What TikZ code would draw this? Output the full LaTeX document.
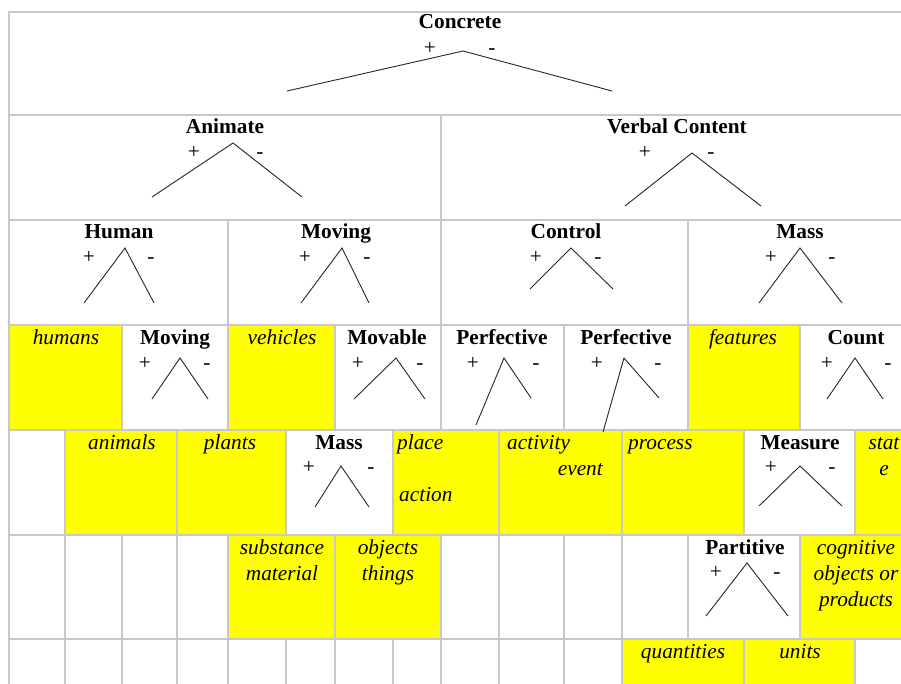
\documentclass[tikz,border=0pt]{standalone}
\usepackage{fontspec}
\setmainfont{Liberation Serif}
\definecolor{cellyellow}{HTML}{FFFF00}
\definecolor{gridgray}{HTML}{C8C8C8}
\tikzset{
  lbl/.style={anchor=base, inner sep=0pt, font=\bfseries\fontsize{21.33}{26}\selectfont},
  itl/.style={anchor=base, inner sep=0pt, font=\itshape\fontsize{21.33}{26}\selectfont},
  itlw/.style={itl, anchor=base west},
  sgn/.style={anchor=base, inner sep=0pt, font=\fontsize{21.33}{26}\selectfont},
  branch/.style={draw=black!85, line width=0.9pt},
  cellbox/.style={draw=gridgray, line width=1.7pt},
  yfill/.style={fill=cellyellow},
}
\newcommand\branchpair[7]{%
  \coordinate (#1a) at (#2,#3);
  \coordinate (#1l) at (#4,#5);
  \coordinate (#1r) at (#6,#7);
  \draw[branch] (#1l) -- (#1a) -- (#1r);}
\newcommand\signpair[4]{%
  \node[sgn] (#1p) at (#2,#4) {+};
  \node[sgn] (#1m) at (#3,#4) {-};}
\begin{document}
\begin{tikzpicture}[x=1pt,y=-1pt]
\useasboundingbox (0,0) rectangle (901,684);
\fill[white] (0,0) rectangle (901,684);
\clip (0,0) rectangle (901,684);

% ---------- yellow cells ----------
\foreach \xa/\xb/\ya/\yb in {
  9/122/325/430, 228/335/325/430, 688/800/325/430,
  65/177/430/535, 177/286/430/535, 393/499/430/535, 499/622/430/535, 622/744/430/535, 855/915/430/535,
  228/335/535/639, 335/441/535/639, 800/915/535/639,
  622/744/639/740, 744/855/639/740}
  \fill[yfill] (\xa,\ya) rectangle (\xb,\yb);

% ---------- cell borders ----------
\foreach \xa/\xb in {9/915}
  \draw[cellbox] (\xa,12) rectangle (\xb,115);
\foreach \xa/\xb in {9/441, 441/915}
  \draw[cellbox] (\xa,115) rectangle (\xb,220);
\foreach \xa/\xb in {9/228, 228/441, 441/688, 688/915}
  \draw[cellbox] (\xa,220) rectangle (\xb,325);
\foreach \xa/\xb in {9/122, 122/228, 228/335, 335/441, 441/564, 564/688, 688/800, 800/915}
  \draw[cellbox] (\xa,325) rectangle (\xb,430);
\foreach \xa/\xb in {9/65, 65/177, 177/286, 286/393, 393/499, 499/622, 622/744, 744/855, 855/915}
  \draw[cellbox] (\xa,430) rectangle (\xb,535);
\foreach \xa/\xb in {9/65, 65/122, 122/177, 177/228, 228/335, 335/441, 441/499, 499/564, 564/622, 622/688, 688/800, 800/915}
  \draw[cellbox] (\xa,535) rectangle (\xb,639);
\foreach \xa/\xb in {9/65, 65/122, 122/177, 177/228, 228/286, 286/335, 335/393, 393/441, 441/499, 499/564, 564/622, 622/744, 744/855, 855/915}
  \draw[cellbox] (\xa,639) rectangle (\xb,740);

% ---------- row 1 ----------
\node[lbl] (concrete) at (460,29) {Concrete};
\signpair{concrete}{430}{492}{55}
\branchpair{concrete}{463}{51}{287}{91}{612}{91}

% ---------- row 2 ----------
\node[lbl] (animate) at (225,134) {Animate};
\signpair{animate}{194}{260}{159}
\branchpair{animate}{233}{143}{152}{197}{302}{197}
\node[lbl] (verbal) at (677,134) {Verbal Content};
\signpair{verbal}{645}{711}{159}
\branchpair{verbal}{692}{153}{625}{206}{761}{206}

% ---------- row 3 ----------
\node[lbl] (human) at (119,239) {Human};
\signpair{human}{89}{151}{264}
\branchpair{human}{125}{248}{84}{303}{154}{303}
\node[lbl] (movingA) at (336,239) {Moving};
\signpair{movingA}{305}{367}{264}
\branchpair{movingA}{342}{248}{301}{303}{369}{303}
\node[lbl] (control) at (566,239) {Control};
\signpair{control}{536}{598}{264}
\branchpair{control}{571}{248}{530}{289}{613}{289}
\node[lbl] (massA) at (800,239) {Mass};
\signpair{massA}{771}{832}{264}
\branchpair{massA}{800}{248}{759}{303}{842}{303}

% ---------- row 4 ----------
\node[itl] (humans) at (66,344) {humans};
\node[lbl] (movingB) at (175,344) {Moving};
\signpair{movingB}{145}{207}{369}
\branchpair{movingB}{180}{358}{152}{399}{208}{399}
\node[itl] (vehicles) at (282,344) {vehicles};
\node[lbl] (movable) at (387,344) {Movable};
\signpair{movable}{358}{420}{369}
\branchpair{movable}{396}{358}{354}{399}{425}{399}
\node[lbl] (perfA) at (502,344) {Perfective};
\signpair{perfA}{473}{536}{369}
\branchpair{perfA}{504}{358}{476}{425}{531}{398}
\node[lbl] (perfB) at (626,344) {Perfective};
\signpair{perfB}{597}{658}{369}
\branchpair{perfB}{624}{358}{603}{432}{659}{398}
\node[itl] (features) at (743,344) {features};
\node[lbl] (count) at (856,344) {Count};
\signpair{count}{827}{888}{369}
\branchpair{count}{855}{358}{827}{399}{883}{399}

% ---------- row 5 ----------
\node[itl] (animals) at (122,449) {animals};
\node[itl] (plants) at (230,449) {plants};
\node[lbl] (massB) at (339,449) {Mass};
\signpair{massB}{309}{371}{473}
\branchpair{massB}{341}{466}{315}{507}{369}{507}
\node[itlw] (place) at (397,449) {place};
\node[itlw] (action) at (399,501) {action};
\node[itlw] (activity) at (507,449) {activity};
\node[itl, anchor=base east] (event) at (603,475) {event};
\node[itlw] (process) at (628,449) {process};
\node[lbl] (measure) at (800,449) {Measure};
\signpair{measure}{771}{832}{473}
\branchpair{measure}{800}{466}{759}{506}{842}{506}
\node[itl] (stat) at (884,449) {stat};
\node[itl] (stateE) at (884,475) {e};

% ---------- row 6 ----------
\node[itl] (substance) at (282,554) {substance};
\node[itl] (material) at (282,580) {material};
\node[itl] (objectsA) at (388,554) {objects};
\node[itl] (things) at (388,580) {things};
\node[lbl] (partitive) at (745,554) {Partitive};
\signpair{partitive}{716}{777}{578}
\branchpair{partitive}{747}{563}{706}{616}{788}{616}
\node[itl] (cognitive) at (856,554) {cognitive};
\node[itl] (objectsB) at (856,580) {objects or};
\node[itl] (products) at (856,606) {products};

% ---------- row 7 ----------
\node[itl] (quantities) at (683,658) {quantities};
\node[itl] (units) at (800,658) {units};
\end{tikzpicture}
\end{document}
